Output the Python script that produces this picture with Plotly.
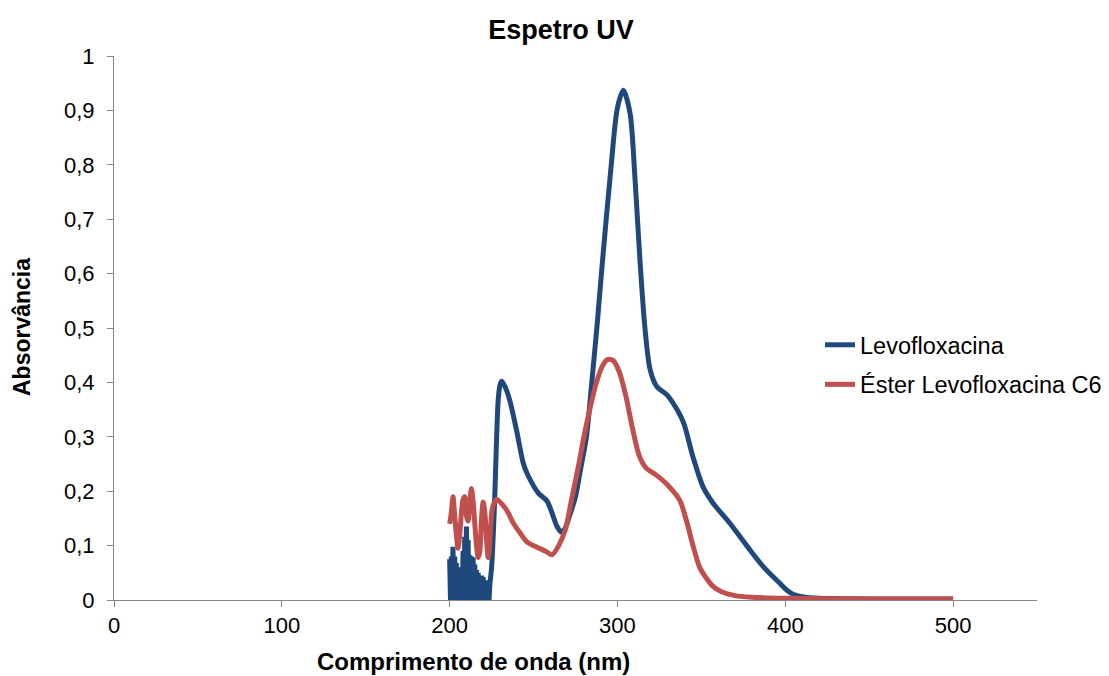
import plotly.graph_objects as go

# ---------------- data ----------------
# Levofloxacina - noisy region (200-224 nm)
wl_levo_noise = [200, 200.5, 201, 201.5, 202, 202.5, 203, 203.5, 204, 204.5,
                 205, 205.5, 206, 206.5, 207, 207.5, 208, 208.5, 209, 209.5,
                 210, 210.5, 211, 211.5, 212, 212.5, 213, 213.5, 214, 214.5,
                 215, 215.5, 216, 216.5, 217, 217.5, 218, 218.5, 219, 219.5,
                 220, 220.5, 221, 221.5, 222, 222.5, 223, 223.5, 224]
abs_levo_noise = [0.075, 0.0, 0.08, 0.0, 0.098, 0.0, 0.08, 0.01, 0.068, 0.0,
                  0.055, 0.0, 0.056, 0.0, 0.06, 0.0, 0.09, 0.0, 0.116, 0.0,
                  0.135, 0.0, 0.11, 0.0, 0.082, 0.0, 0.08, 0.0, 0.078, 0.0,
                  0.065, 0.0, 0.055, 0.0, 0.05, 0.0, 0.043, 0.0, 0.045, 0.0,
                  0.042, 0.0, 0.035, 0.0, 0.03, 0.0, 0.036, 0.0, 0.03]

# Levofloxacina - smooth spectrum
wl_levo = [224, 225, 226, 227, 228, 229, 230, 231, 232, 234, 236, 240, 244, 247,
           253, 258, 261, 264, 266.5, 268.5, 272, 275, 278, 281.5, 285, 288, 291,
           296, 300, 303.5, 307.5, 310.5, 313.5, 316.5, 319.5, 323.5, 329.5,
           335.5, 339.5, 345, 351, 357, 367, 377, 387, 397, 401, 405, 410, 420,
           460, 500]
abs_levo = [0.03, 0.06, 0.12, 0.2, 0.3, 0.37, 0.395, 0.402, 0.398, 0.385, 0.365,
            0.31, 0.25, 0.227, 0.196, 0.182, 0.16, 0.135, 0.125, 0.13, 0.16,
            0.19, 0.24, 0.3, 0.41, 0.51, 0.62, 0.79, 0.905, 0.937, 0.895, 0.772,
            0.62, 0.496, 0.423, 0.392, 0.377, 0.35, 0.325, 0.263, 0.208, 0.178,
            0.141, 0.10, 0.061, 0.03, 0.018, 0.01, 0.006, 0.003, 0.002, 0.002]

# Éster Levofloxacina C6
wl_ester = [200, 201, 202, 203, 204, 205, 206, 207, 208, 209, 210, 211, 212,
            213, 214, 215, 216, 217, 218, 219, 220, 221, 222, 223, 224, 225,
            226, 228, 230, 234, 238, 242, 246, 252, 257, 261, 265, 269, 273,
            277, 280, 283.5, 287, 291, 294, 297.5, 301, 305, 309, 313, 317, 323,
            329, 337, 341, 345, 349, 353, 357, 362, 370, 380, 400, 450, 500]
abs_ester = [0.14, 0.16, 0.19, 0.155, 0.12, 0.095, 0.12, 0.16, 0.185, 0.19,
             0.155, 0.145, 0.18, 0.205, 0.18, 0.14, 0.10, 0.078, 0.09, 0.15,
             0.18, 0.16, 0.11, 0.078, 0.11, 0.16, 0.175, 0.185, 0.18, 0.165,
             0.141, 0.123, 0.107, 0.097, 0.09, 0.083, 0.1, 0.13, 0.19, 0.25,
             0.3, 0.35, 0.395, 0.43, 0.442, 0.44, 0.42, 0.375, 0.315, 0.265,
             0.243, 0.23, 0.214, 0.184, 0.147, 0.10, 0.06, 0.04, 0.025, 0.015,
             0.008, 0.005, 0.003, 0.002, 0.002]

x_ticks = [0, 100, 200, 300, 400, 500]
y_ticks = [0, 0.1, 0.2, 0.3, 0.4, 0.5, 0.6, 0.7, 0.8, 0.9, 1]
y_ticktext = ["0", "0,1", "0,2", "0,3", "0,4", "0,5", "0,6", "0,7", "0,8", "0,9", "1"]

series_names = ["Levofloxacina", "Éster Levofloxacina C6"]
BLUE = "#1F497D"
RED = "#C0504D"
GRAY = "#868686"
FONT = "Liberation Sans, Arial, sans-serif"

fig = go.Figure()
fig.add_trace(go.Scatter(x=wl_levo_noise, y=abs_levo_noise, mode="lines",
                         line=dict(color=BLUE, width=5, shape="linear"),
                         legendgroup="levo", showlegend=False, hoverinfo="skip"))
fig.add_trace(go.Scatter(x=wl_levo, y=abs_levo, mode="lines", name=series_names[0],
                         line=dict(color=BLUE, width=5, shape="spline", smoothing=0.8),
                         legendgroup="levo"))
fig.add_trace(go.Scatter(x=wl_ester, y=abs_ester, mode="lines", name=series_names[1],
                         line=dict(color=RED, width=5, shape="spline", smoothing=0.8),
                         legendgroup="ester"))

W, H = 1109, 676
L, R, T, B = 114, 72, 56, 76
pw, ph = W - L - R, H - T - B

fig.update_layout(
    width=W, height=H,
    margin=dict(l=L, r=R, t=T, b=B, autoexpand=False),
    paper_bgcolor="white", plot_bgcolor="white",
    font=dict(family=FONT, size=22, color="black"),
    title=dict(text="<b>Espetro UV</b>", x=561 / W, xanchor="center",
               y=1 - 30 / H, yanchor="middle", yref="container",
               font=dict(size=27, family=FONT, color="black")),
    showlegend=True,
    legend=dict(x=(820 - L) / pw, xanchor="left", y=(600 - 323) / ph, yanchor="top",
                bgcolor="rgba(0,0,0,0)", font=dict(size=23.5, family=FONT),
                tracegroupgap=6, itemwidth=30),
    xaxis=dict(range=[0, 550], tickvals=x_ticks, showgrid=False, zeroline=False,
               showline=True, linecolor=GRAY, linewidth=1, ticks="outside",
               ticklen=6, tickcolor=GRAY, tickfont=dict(size=22), automargin=False),
    yaxis=dict(range=[0, 1], tickvals=y_ticks, ticktext=y_ticktext, showgrid=False,
               zeroline=False, showline=True, linecolor=GRAY, linewidth=1,
               ticks="outside", ticklen=6, tickcolor=GRAY, tickfont=dict(size=22),
               ticklabelstandoff=8, automargin=False),
    annotations=[
        dict(text="<b>Comprimento de onda (nm)</b>", xref="paper", yref="paper",
             x=(473 - L) / pw, y=(600 - 661) / ph, xanchor="center", yanchor="middle",
             showarrow=False, font=dict(size=24, family=FONT)),
        dict(text="<b>Absorvância</b>", xref="paper", yref="paper",
             x=(22 - L) / pw, y=(600 - 327) / ph, xanchor="center", yanchor="middle",
             textangle=-90, showarrow=False, font=dict(size=23, family=FONT)),
    ],
)

fig.write_html("out.html")
